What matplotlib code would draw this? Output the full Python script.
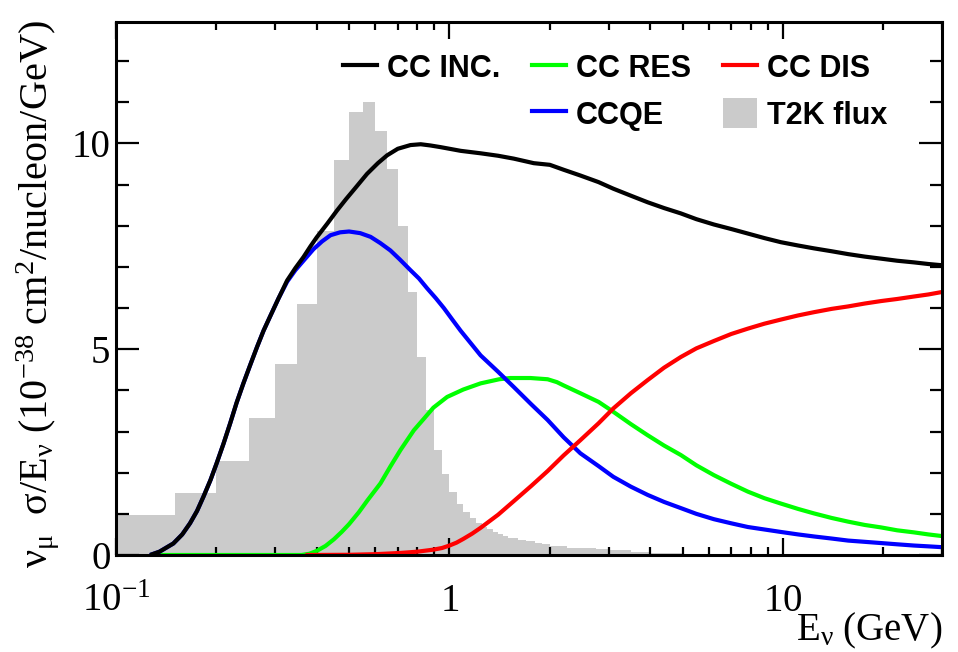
import matplotlib
matplotlib.use("Agg")
import matplotlib.pyplot as plt
from matplotlib.lines import Line2D
from matplotlib.patches import Patch
from matplotlib.ticker import LogLocator, NullFormatter, MultipleLocator, FixedLocator, FixedFormatter

plt.rcParams['font.family'] = 'Liberation Serif'
plt.rcParams['mathtext.fontset'] = 'custom'
plt.rcParams['mathtext.rm'] = 'Liberation Serif'
plt.rcParams['mathtext.it'] = 'Liberation Serif:italic'
plt.rcParams['mathtext.bf'] = 'Liberation Serif:bold'

# ---------------- data ----------------
# T2K flux histogram (arbitrary normalisation)
flux_edges = [0.10, 0.15, 0.20, 0.25, 0.30, 0.35, 0.40, 0.45, 0.50, 0.55, 0.60,
              0.65, 0.70, 0.75, 0.80, 0.85, 0.90, 0.95, 1.00, 1.05, 1.10, 1.15,
              1.20, 1.25, 1.30, 1.35, 1.40, 1.45, 1.50, 1.60, 1.70, 1.80, 1.90,
              2.00, 2.25, 2.50, 2.75, 3.00, 3.50, 4.00, 5.00, 7.00, 10.0]
flux_vals = [0.98, 1.50, 2.28, 3.34, 4.64, 6.09, 7.86, 9.59, 10.77, 11.0,
             10.3, 9.37, 8.0, 6.39, 4.81, 3.52, 2.55, 1.97, 1.54, 1.25, 1.05,
             0.89, 0.77, 0.69, 0.62, 0.56, 0.51, 0.47, 0.42, 0.37, 0.33, 0.30,
             0.26, 0.22, 0.18, 0.16, 0.14, 0.11, 0.08, 0.05, 0.03, 0.01]

# CC inclusive
inc_E = [0.1265, 0.135, 0.1486, 0.158, 0.1667, 0.175, 0.183, 0.192, 0.2004, 0.21,
         0.22, 0.23, 0.241, 0.253, 0.265, 0.277, 0.29, 0.307, 0.326, 0.345,
         0.365, 0.383, 0.40, 0.43, 0.46, 0.49, 0.52, 0.566, 0.61, 0.65, 0.70,
         0.764, 0.82, 0.877, 0.94, 1.0, 1.08, 1.157, 1.24, 1.4, 1.56, 1.79, 2.0,
         2.2, 2.47, 2.8, 3.1, 3.5, 3.93, 4.4, 4.94, 5.5, 6.21, 7.0, 7.85, 8.8,
         9.86, 11.1, 12.4, 14.0, 15.7, 17.6, 19.7, 22.0, 24.7, 27.3, 30.0]
inc_xs = [0.0, 0.08, 0.28, 0.5, 0.77, 1.07, 1.42, 1.82, 2.23, 2.7,
          3.2, 3.7, 4.17, 4.63, 5.06, 5.45, 5.8, 6.23, 6.67, 6.97,
          7.24, 7.5, 7.72, 8.05, 8.37, 8.65, 8.9, 9.26, 9.52, 9.71, 9.87,
          9.96, 9.98, 9.95, 9.91, 9.87, 9.82, 9.79, 9.76, 9.7, 9.63, 9.52, 9.48,
          9.36, 9.22, 9.06, 8.9, 8.73, 8.57, 8.43, 8.30, 8.16, 8.03, 7.92, 7.81, 7.7,
          7.6, 7.52, 7.45, 7.38, 7.31, 7.25, 7.2, 7.15, 7.11, 7.07, 7.04]

# CCQE
qe_E = [0.1265, 0.135, 0.1486, 0.158, 0.1667, 0.175, 0.183, 0.192, 0.2004, 0.21,
        0.22, 0.23, 0.241, 0.253, 0.265, 0.277, 0.29, 0.307, 0.326, 0.345,
        0.365, 0.391, 0.415, 0.44, 0.47, 0.50, 0.54, 0.58, 0.62, 0.665, 0.71,
        0.764, 0.81, 0.857, 0.91, 0.962, 1.02, 1.08, 1.16, 1.24, 1.4, 1.56, 1.76,
        1.97, 2.2, 2.47, 2.8, 3.1, 3.5, 3.93, 4.4, 4.94, 5.5, 6.21, 7.0, 7.85,
        8.8, 9.86, 11.1, 12.4, 14.0, 15.7, 17.6, 19.7, 22.0, 24.7, 27.3, 30.0]
qe_xs = [0.0, 0.08, 0.28, 0.5, 0.77, 1.07, 1.42, 1.82, 2.23, 2.7,
         3.2, 3.7, 4.17, 4.63, 5.06, 5.45, 5.8, 6.23, 6.64, 6.92,
         7.15, 7.43, 7.62, 7.77, 7.84, 7.86, 7.82, 7.73, 7.58, 7.40, 7.18,
         6.92, 6.72, 6.48, 6.24, 6.0, 5.72, 5.45, 5.14, 4.85, 4.45, 4.08, 3.66,
         3.28, 2.86, 2.47, 2.16, 1.9, 1.66, 1.46, 1.29, 1.14, 1.0, 0.87, 0.77, 0.68,
         0.62, 0.56, 0.5, 0.45, 0.4, 0.35, 0.32, 0.29, 0.26, 0.23, 0.21, 0.19]

# CC resonant
res_E = [0.1265, 0.36, 0.38, 0.40, 0.425, 0.45, 0.475, 0.50, 0.535, 0.568, 0.621,
         0.665, 0.713, 0.782, 0.84, 0.895, 0.984, 1.1, 1.24, 1.41, 1.52, 1.75,
         1.97, 2.1, 2.2, 2.47, 2.8, 3.1, 3.5, 3.93, 4.4, 4.94, 5.5, 6.21, 7.0,
         7.85, 8.8, 9.86, 11.1, 12.4, 14.0, 15.7, 17.6, 19.7, 22.0, 24.7, 27.3, 30.0]
res_xs = [0.0, 0.0, 0.03, 0.10, 0.22, 0.38, 0.56, 0.75, 1.04, 1.33, 1.74,
          2.15, 2.55, 3.03, 3.32, 3.58, 3.84, 4.02, 4.17, 4.27, 4.30, 4.30,
          4.27, 4.20, 4.12, 3.93, 3.72, 3.48, 3.18, 2.91, 2.66, 2.43, 2.18, 1.94, 1.73,
          1.54, 1.38, 1.25, 1.12, 1.01, 0.9, 0.81, 0.73, 0.67, 0.6, 0.55, 0.5, 0.46]

# CC DIS
dis_E = [0.37, 0.5, 0.6, 0.713, 0.8, 0.895, 0.95, 1.0, 1.05, 1.1, 1.17, 1.24, 1.4,
         1.56, 1.76, 1.97, 2.2, 2.47, 2.8, 3.1, 3.5, 3.93, 4.4, 4.94, 5.5, 6.21,
         7.0, 7.85, 8.8, 9.86, 11.1, 12.4, 14.0, 15.7, 17.6, 19.7, 22.0, 24.7,
         27.3, 30.0]
dis_xs = [0.0, 0.005, 0.02, 0.05, 0.08, 0.13, 0.17, 0.23, 0.3, 0.39, 0.52, 0.66, 0.98,
          1.31, 1.68, 2.04, 2.42, 2.79, 3.2, 3.56, 3.93, 4.25, 4.55, 4.81, 5.02, 5.2,
          5.37, 5.5, 5.62, 5.72, 5.82, 5.9, 5.98, 6.04, 6.11, 6.17, 6.22, 6.28,
          6.33, 6.39]

labels = ["CC INC.", "CC RES", "CC DIS", "CCQE", "T2K flux"]
x_tick_vals = [0.1, 1, 10]
x_tick_labels = [r"$\mathregular{10^{-1}}$", r"$\mathregular{1}$", r"$\mathregular{10}$"]
y_tick_vals = [0, 5, 10]

# ---------------- figure ----------------
fig = plt.figure(figsize=(9.58, 6.52), dpi=100)
ax = fig.add_axes([116/958, 97/652, 826/958, 533/652])

ax.stairs(flux_vals, flux_edges, fill=True, color='#cbcbcb', lw=0, zorder=1)
lw = 3.0
ax.plot(res_E, res_xs, color='#00ff00', lw=lw, zorder=3, solid_capstyle='butt')
ax.plot(qe_E, qe_xs, color='#0000ff', lw=lw, zorder=4, solid_capstyle='butt')
ax.plot(dis_E, dis_xs, color='#ff0000', lw=lw, zorder=5, solid_capstyle='butt')
ax.plot(inc_E, inc_xs, color='black', lw=lw, zorder=6, solid_capstyle='butt')

ax.set_xscale('log')
ax.set_xlim(0.1, 30)
ax.set_ylim(0, 12.95)

ax.xaxis.set_major_locator(FixedLocator(x_tick_vals))
ax.xaxis.set_major_formatter(FixedFormatter(x_tick_labels))
ax.xaxis.set_minor_locator(LogLocator(base=10, subs=range(2, 10), numticks=20))
ax.xaxis.set_minor_formatter(NullFormatter())
ax.yaxis.set_major_locator(FixedLocator(y_tick_vals))
ax.yaxis.set_minor_locator(MultipleLocator(1))

ax.tick_params(which='both', direction='in', top=True, right=True, width=1.6)
ax.tick_params(axis='x', which='major', length=12, pad=20, labelsize=28)
ax.tick_params(axis='x', which='minor', length=6)
ax.tick_params(axis='y', which='major', length=16.5, pad=4, labelsize=28)
ax.tick_params(axis='y', which='minor', length=9)
for s in ax.spines.values():
    s.set_linewidth(2.2)
    s.set_zorder(10)

ax.set_ylabel(r"$\mathregular{\nu_{\mu}\ \ \sigma/E_{\nu}\ (10^{-38}\ cm^{2}/nucleon/GeV)}$",
              fontsize=29)
ax.yaxis.set_label_coords(-0.066, 0.49)
ax.set_xlabel(r"$\mathregular{E_{\nu}\ (GeV)}$", fontsize=28, ha='right')
ax.xaxis.set_label_coords(1.0, -0.105)

handles = [Line2D([], [], color='black', lw=lw),
           Line2D([], [], color='none', lw=0),
           Line2D([], [], color='#00ff00', lw=lw),
           Line2D([], [], color='#0000ff', lw=lw),
           Line2D([], [], color='#ff0000', lw=lw),
           Patch(facecolor='#cbcbcb', edgecolor='none')]
leg_labels = [labels[0], " ", labels[1], labels[3], labels[2], labels[4]]
leg = ax.legend(handles, leg_labels, ncol=3, loc='upper left',
                bbox_to_anchor=(0.2748, 0.944), frameon=False,
                borderaxespad=0, borderpad=0, handlelength=1.1,
                handleheight=1.15, handletextpad=0.33, columnspacing=1.05,
                labelspacing=0.45,
                prop={'family': 'Liberation Sans', 'weight': 'bold', 'size': 22})

fig.savefig("out.png", dpi=100)
